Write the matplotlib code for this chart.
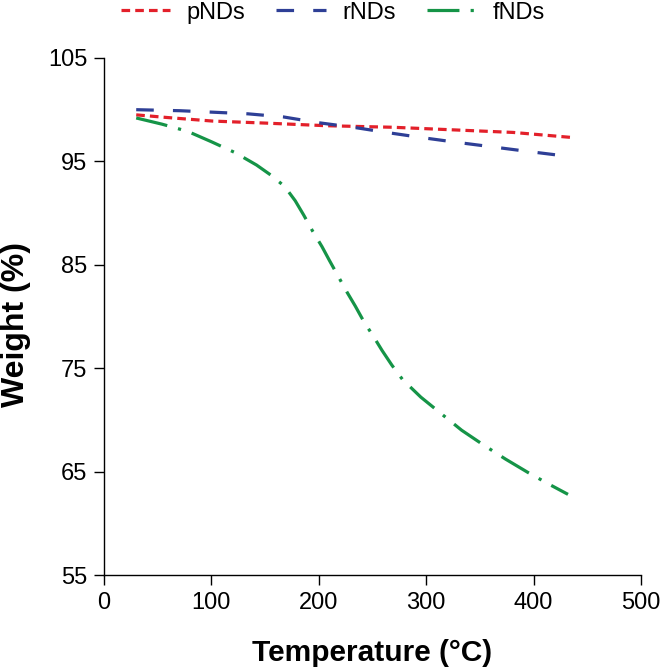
import numpy as np
import matplotlib
matplotlib.use('Agg')
import matplotlib.pyplot as plt

plt.rcParams['font.family'] = ['Liberation Sans', 'DejaVu Sans']

# values
temp_p = [30, 58, 101, 151, 207, 269, 381, 437]
weight_p = [99.5, 99.25, 98.9, 98.7, 98.45, 98.3, 97.8, 97.3]

temp_r = [30, 71, 103, 134, 167, 199, 232, 263, 296, 328, 392, 431]
weight_r = [100.0, 99.9, 99.75, 99.6, 99.3, 98.75, 98.3, 97.8, 97.3, 96.85, 96.0, 95.5]

temp_f = [30, 54, 78, 100, 122, 142, 155, 168, 178, 186, 194, 203, 210, 218, 226,
          234, 242, 251, 259, 268, 278, 295, 314, 333, 353, 374, 395, 414, 432]
weight_f = [99.2, 98.6, 97.9, 96.9, 95.85, 94.65, 93.7, 92.6, 91.2, 89.8, 88.3, 86.75,
            85.4, 83.9, 82.4, 81.0, 79.5, 78.05, 76.7, 75.3, 73.9, 72.2, 70.6, 69.0,
            67.6, 66.2, 64.9, 63.8, 62.8]

labels = ['pNDs', 'rNDs', 'fNDs']

fig = plt.figure(figsize=(6.64, 6.68), dpi=100)
ax = fig.add_axes([0.1566, 0.1392, 0.8088, 0.774])

lw = 2.3
ax.plot(temp_p, weight_p, color='#e3202a', lw=lw, dashes=(2.7, 1.6), label=labels[0])
ax.plot(temp_r, weight_r, color='#2e3f96', lw=lw, dashes=(5.5, 6), label=labels[1])
ax.plot(temp_f, weight_f, color='#159447', lw=lw, dashes=(10, 3.5, 1, 3.5), label=labels[2])

ax.set_xlim(0, 500)
ax.set_ylim(55, 105)
ax.set_xticks([0, 100, 200, 300, 400, 500])
ax.set_yticks([55, 65, 75, 85, 95, 105])
ax.tick_params(direction='out', length=7, width=1, labelsize=17, pad=5)
for s in ['top', 'right']:
    ax.spines[s].set_visible(False)
ax.spines['left'].set_linewidth(1)
ax.spines['bottom'].set_linewidth(1)

ax.set_xlabel('Temperature (°C)', fontsize=21.5, fontweight='bold', labelpad=18)
ax.set_ylabel('Weight (%)', fontsize=23, fontweight='bold')
ax.yaxis.set_label_coords(-0.136, 0.485)

ax.legend(loc='upper center', bbox_to_anchor=(0.426, 1.15), ncol=3, frameon=False,
          fontsize=17, handlelength=2.1, columnspacing=1.3, handletextpad=0.7)

fig.savefig('out.png', dpi=100)
